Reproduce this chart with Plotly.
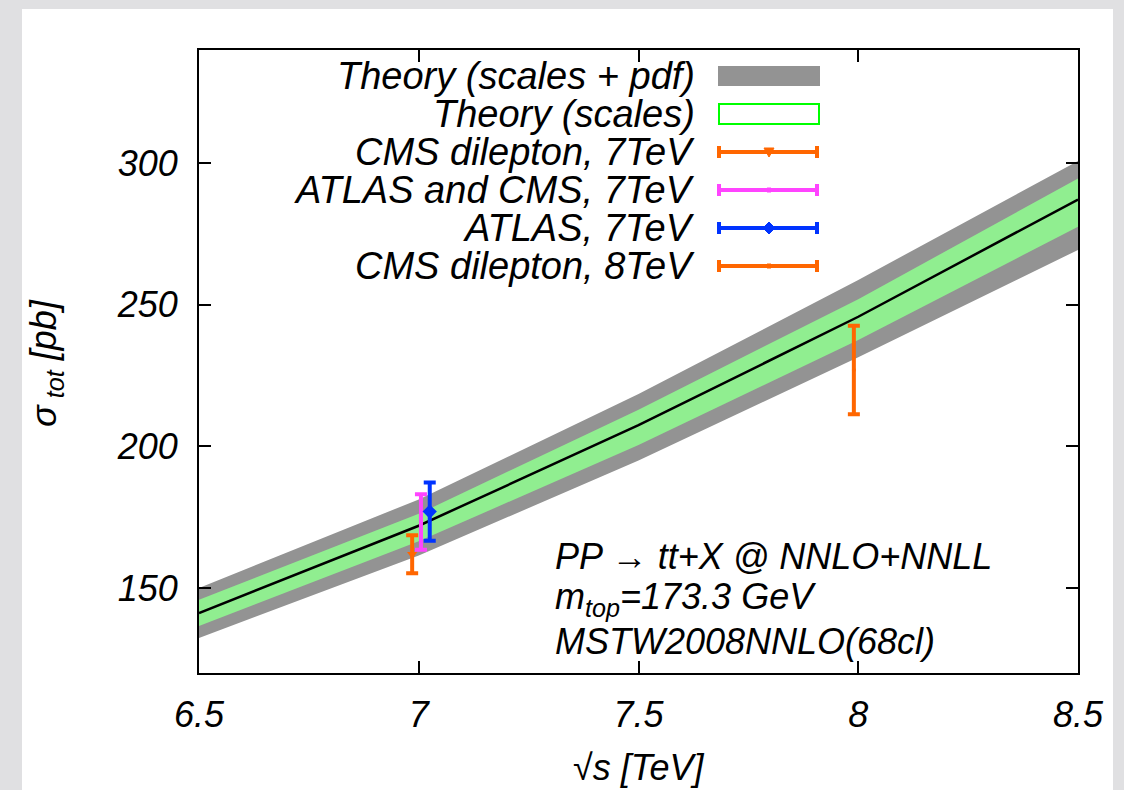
import plotly.graph_objects as go

# ---------------- data ----------------
sqrt_s = [6.5, 7.0, 7.5, 8.0, 8.5]
sigma_central = [141.2, 172.0, 207.5, 245.8, 287.2]
sigma_scales_up = [145.9, 176.2, 213.0, 252.0, 294.6]
sigma_scales_dn = [136.6, 166.5, 200.5, 237.6, 277.6]
sigma_total_up = [150.0, 181.3, 218.5, 258.8, 300.8]
sigma_total_dn = [132.4, 161.5, 195.0, 231.5, 269.4]

meas_names = ["CMS dilepton, 7TeV", "ATLAS and CMS, 7TeV", "ATLAS, 7TeV", "CMS dilepton, 8TeV"]
meas_x = [6.985, 7.005, 7.025, 7.99]
meas_y = [161.9, 173.3, 177.0, 227.0]
meas_err = [6.7, 9.8, 10.3, 15.6]
meas_colors = ["#ff6600", "#ff44ff", "#0033ff", "#ff6600"]
meas_symbols = ["triangle-down", "circle", "diamond", "circle"]
meas_sizes = [9, 4, 11, 4]

legend_labels = ["Theory (scales + pdf)", "Theory (scales)"] + meas_names
info_lines = ["PP \u2192 tt+X @ NNLO+NNLL", "m<sub>top</sub>=173.3 GeV", "MSTW2008NNLO(68cl)"]

xticks = [6.5, 7, 7.5, 8, 8.5]
xticklabels = ["6.5", "7", "7.5", "8", "8.5"]
yticks = [150, 200, 250, 300]

GREY = "#939393"
LGREEN = "#90ee90"
FONT = "Liberation Sans"

# ---------------- geometry (pixels) ----------------
W, H = 1124, 790
L, R, T, B = 199, 46, 50, 117
PW, PH = W - L - R, H - T - B


def px(xp):
    return (xp - L) / PW


def py(yp):
    return (H - B - yp) / PH


fig = go.Figure()

# grey band (scales + pdf)
fig.add_trace(go.Scatter(x=sqrt_s, y=sigma_total_dn, mode="lines", line=dict(width=0, color=GREY),
                         showlegend=False, hoverinfo="skip"))
fig.add_trace(go.Scatter(x=sqrt_s, y=sigma_total_up, mode="lines", line=dict(width=0, color=GREY),
                         fill="tonexty", fillcolor=GREY, showlegend=False, hoverinfo="skip"))
# green band (scales)
fig.add_trace(go.Scatter(x=sqrt_s, y=sigma_scales_dn, mode="lines", line=dict(width=0, color=LGREEN),
                         showlegend=False, hoverinfo="skip"))
fig.add_trace(go.Scatter(x=sqrt_s, y=sigma_scales_up, mode="lines", line=dict(width=0, color=LGREEN),
                         fill="tonexty", fillcolor=LGREEN, showlegend=False, hoverinfo="skip"))
# central line
fig.add_trace(go.Scatter(x=sqrt_s, y=sigma_central, mode="lines", line=dict(width=2.5, color="black"),
                         showlegend=False))

# measurements
for name, x, y, e, c, s, ms in zip(meas_names, meas_x, meas_y, meas_err, meas_colors, meas_symbols, meas_sizes):
    fig.add_trace(go.Scatter(
        x=[x], y=[y], mode="markers", name=name, showlegend=False,
        marker=dict(symbol=s, size=ms, color=c),
        error_y=dict(type="data", array=[e], color=c, thickness=4, width=6),
    ))

shapes = []
annotations = []

# white page box
shapes.append(dict(type="rect", xref="paper", yref="paper", layer="below",
                   x0=px(22), x1=px(1113), y0=py(790), y1=py(9),
                   fillcolor="white", line=dict(width=0)))

# ---------------- custom legend (gnuplot style) ----------------
row_y = [76 + 38 * i for i in range(len(legend_labels))]
text_right = 697
key_x0, key_x1 = 718, 820
key_cx = (key_x0 + key_x1) / 2

for i, lab in enumerate(legend_labels):
    annotations.append(dict(xref="paper", yref="paper", x=px(text_right), y=py(row_y[i]),
                            xanchor="right", yanchor="middle", showarrow=False, text=lab,
                            font=dict(family=FONT, size=38, style="italic", color="black")))

# key 0: grey filled box
shapes.append(dict(type="rect", xref="paper", yref="paper", x0=px(key_x0), x1=px(key_x1),
                   y0=py(row_y[0] + 10), y1=py(row_y[0] - 10), fillcolor=GREY, line=dict(width=0)))
# key 1: green outlined box
shapes.append(dict(type="rect", xref="paper", yref="paper", x0=px(key_x0 + 1), x1=px(key_x1 - 1),
                   y0=py(row_y[1] + 10), y1=py(row_y[1] - 10), fillcolor="white",
                   line=dict(width=2, color="#00ff00")))
# keys 2-5: horizontal error bars
for j in range(len(meas_names)):
    yy = row_y[2 + j]
    c = meas_colors[j]
    shapes.append(dict(type="line", xref="paper", yref="paper", x0=px(key_x0), x1=px(key_x1 - 2),
                       y0=py(yy), y1=py(yy), line=dict(width=4, color=c)))
    for xc in (key_x0 + 1, key_x1 - 3):
        shapes.append(dict(type="line", xref="paper", yref="paper", x0=px(xc), x1=px(xc),
                           y0=py(yy - 6), y1=py(yy + 6), line=dict(width=4, color=c)))
    sym = meas_symbols[j]
    if sym == "triangle-down":
        path = "M -5,4 L 5,4 L 0,-5 Z"
    elif sym == "diamond":
        path = "M 0,-6 L 6,0 L 0,6 L -6,0 Z"
    else:
        path = "M -2,-2 L 2,-2 L 2,2 L -2,2 Z"
    shapes.append(dict(type="path", xref="paper", yref="paper", xsizemode="pixel", ysizemode="pixel",
                       xanchor=px(key_cx), yanchor=py(yy), path=path, fillcolor=c,
                       line=dict(width=1, color=c)))

# ---------------- info text ----------------
for txt, yy in zip(info_lines, [556, 599, 641]):
    annotations.append(dict(xref="paper", yref="paper", x=px(553), y=py(yy), xanchor="left",
                            yanchor="middle", showarrow=False, text=txt,
                            font=dict(family=FONT, size=36, style="italic", color="black")))

# axis titles
annotations.append(dict(xref="paper", yref="paper", x=px(638), y=py(767), xanchor="center",
                        yanchor="middle", showarrow=False, text="\u221as [TeV]",
                        font=dict(family=FONT, size=36, style="italic", color="black")))
annotations.append(dict(xref="paper", yref="paper", x=px(46), y=py(363), xanchor="center",
                        yanchor="middle", showarrow=False, textangle=-90,
                        text="\u03c3<sub> tot</sub> [pb]",
                        font=dict(family=FONT, size=36, style="italic", color="black")))

axis_common = dict(showline=True, linecolor="black", linewidth=2, mirror="ticks", ticks="inside",
                   ticklen=12, tickwidth=2, tickcolor="black", showgrid=False, zeroline=False,
                   tickfont=dict(family=FONT, size=36, style="italic", color="black"))

fig.update_layout(
    width=W, height=H,
    margin=dict(l=L, r=R, t=T, b=B, pad=0),
    paper_bgcolor="#e0e0e2",
    plot_bgcolor="white",
    showlegend=False,
    xaxis=dict(range=[6.5, 8.5], tickvals=xticks, ticktext=xticklabels, ticklabelstandoff=9,
               **axis_common),
    yaxis=dict(range=[120, 340], tickvals=yticks, ticklabelstandoff=12, **axis_common),
    shapes=shapes,
    annotations=annotations,
)

fig.write_html("out.html")
